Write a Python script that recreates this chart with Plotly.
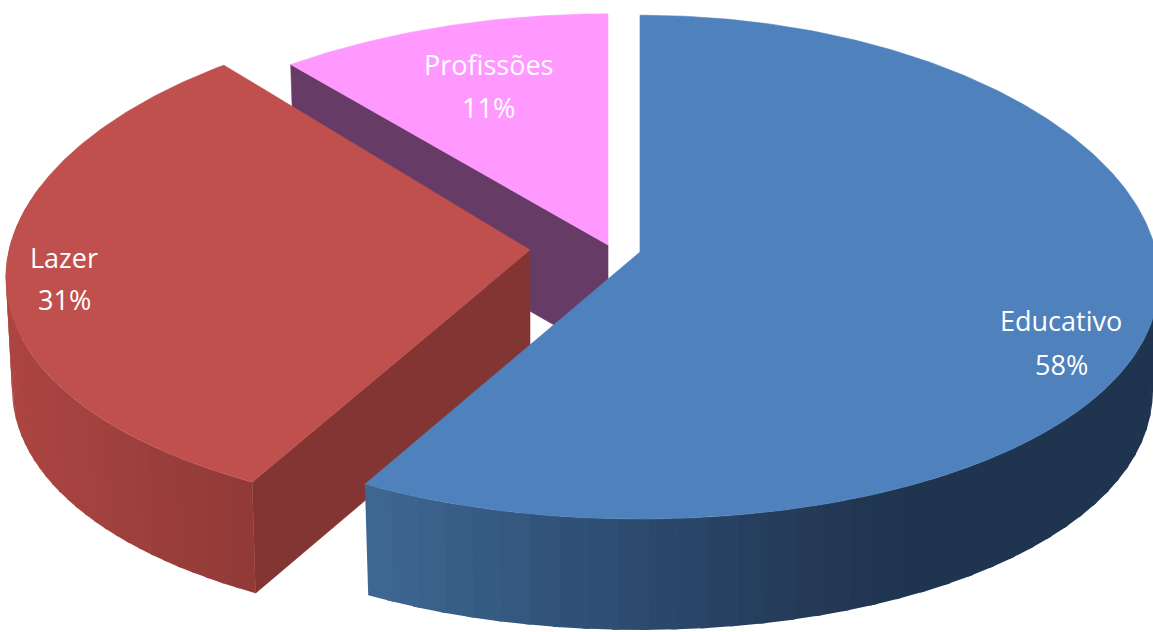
import math
import plotly.graph_objects as go

# Data
categories = ["Educativo", "Lazer", "Profissões"]
values = [58, 31, 11]
percent_labels = ["58%", "31%", "11%"]

# Styling / projection of the exploded 3D pie (pixels of the chart frame)
W, H = 1153, 632
DEPTH = 111
PX, PY = 0.11, 0.06
geometry = {
    "Educativo": dict(apex=(640, 252), A=516, B=251, top="#4F81BD", cut=None,
                      wall=[(368, (62, 103, 146)), (620, (45, 76, 112)), (800, (36, 58, 88)), (900, (31, 52, 79))]),
    "Lazer": dict(apex=(530, 250), A=521, B=251, top="#C0504D", cut="#833533",
                  wall=[(10, (172, 69, 66)), (250, (144, 58, 55))]),
    "Profissões": dict(apex=(608, 245), A=540, B=245, top="#FF99FF", cut="#663C66", wall=None),
}
label_pos = {"Educativo": (1061, 320, 364), "Lazer": (64, 257, 299), "Profissões": (488, 64, 107)}


def project(g, deg, down=0):
    t = math.radians(deg)
    s, c = math.sin(t), math.cos(t)
    shrink = 1 - 0.012 * (down / DEPTH)
    return (g["apex"][0] + shrink * g["A"] * s / (1 + PX * c),
            g["apex"][1] - g["B"] * c / (1 + PY * c) + down)


def colour_at(stops, x):
    if x <= stops[0][0]:
        c = stops[0][1]
    elif x >= stops[-1][0]:
        c = stops[-1][1]
    else:
        for (x0, c0), (x1, c1) in zip(stops, stops[1:]):
            if x0 <= x <= x1:
                f = (x - x0) / (x1 - x0)
                c = tuple(a + (b - a) * f for a, b in zip(c0, c1))
                break
    return "rgb(%d,%d,%d)" % tuple(round(v) for v in c)


def poly(xs, ys, colour, lw=0.6):
    return go.Scatter(x=list(xs) + [xs[0]], y=list(ys) + [ys[0]], mode="lines", fill="toself",
                      fillcolor=colour, line=dict(color=colour, width=lw),
                      hoverinfo="skip", showlegend=False)


total = sum(values)
spans = {}
acc = 0.0
for name, v in zip(categories, values):
    spans[name] = (acc, acc + 360.0 * v / total)
    acc += 360.0 * v / total

fig = go.Figure()
for name in reversed(categories):
    g = geometry[name]
    a0, a1 = spans[name]
    ax, ay = g["apex"]
    # radial cut face at the start of the slice
    if g["cut"]:
        px, py = project(g, a0)
        bx, by = project(g, a0, DEPTH)
        fig.add_trace(poly([ax, px, bx, ax], [ay, py, by, ay + DEPTH], g["cut"]))
    # outer wall, drawn in strips for the horizontal shading
    if g["wall"]:
        wall_start = max(a0, 90)
        wall_end = min(a1, 285)
        n = 40
        # painted from the far end so each strip overlaps the next
        for i in range(n):
            t0 = wall_start + (wall_end - wall_start) * i / n
            t1 = wall_start + (wall_end - wall_start) * (i + 1.25) / n
            t1 = min(t1, wall_end)
            p0, p1 = project(g, t0), project(g, t1)
            q0, q1 = project(g, t0, DEPTH), project(g, t1, DEPTH)
            fig.add_trace(poly([p0[0], p1[0], q1[0], q0[0]], [p0[1], p1[1], q1[1], q0[1]],
                               colour_at(g["wall"], (p0[0] + p1[0]) / 2), lw=0))
    # top face
    steps = max(24, int((a1 - a0) * 1.5))
    rim = [project(g, a0 + (a1 - a0) * i / steps) for i in range(steps + 1)]
    fig.add_trace(poly([ax] + [p[0] for p in rim], [ay] + [p[1] for p in rim], g["top"]))

for name, pct in zip(categories, percent_labels):
    x, y1, y2 = label_pos[name]
    for txt, y in ((name, y1), (pct, y2)):
        fig.add_annotation(x=x, y=y, text=txt, showarrow=False, xanchor="center", yanchor="middle",
                           font=dict(family="Open Sans", size=27, color="white"))

fig.update_xaxes(range=[0, W], visible=False, fixedrange=True)
fig.update_yaxes(range=[H, 0], visible=False, fixedrange=True)
fig.update_layout(width=W, height=H, margin=dict(l=0, r=0, t=0, b=0),
                  paper_bgcolor="white", plot_bgcolor="white", showlegend=False)
fig.write_html("out.html", config={"displayModeBar": False},
               post_script="document.body.style.margin='0';document.body.style.overflow='hidden';")
